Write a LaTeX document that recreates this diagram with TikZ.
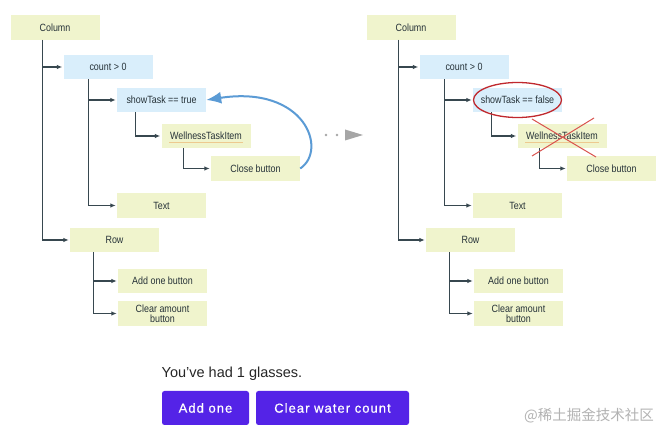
\documentclass[tikz,border=0pt]{standalone}
\usepackage{fontspec}
\setmainfont{Liberation Sans}
\newfontfamily\cjk{Noto Sans CJK SC}
\newfontfamily\btnfont[LetterSpace=8,FakeBold=0.6]{Liberation Sans}
\newfontfamily\boxfont[FakeStretch=0.85]{Liberation Sans}
\usetikzlibrary{arrows.meta,shapes.geometric}
\definecolor{boxgreen}{HTML}{F0F4CD}
\definecolor{boxblue}{HTML}{D9EEFB}
\definecolor{conncol}{HTML}{37474F}
\definecolor{curveblue}{HTML}{5B9BD5}
\definecolor{btncol}{HTML}{5423E7}
\definecolor{ellred}{HTML}{C0282D}
\definecolor{crossred}{HTML}{D9534F}
\definecolor{squig}{HTML}{EDC98F}
\definecolor{txtcol}{HTML}{263238}
\definecolor{arrgray}{HTML}{A6A6A6}
\tikzset{
  gbox/.style={fill=boxgreen, minimum width=89pt, minimum height=24.5pt, inner sep=1pt,
    font=\boxfont\fontsize{10.5}{11.5}\selectfont, text=txtcol, align=center},
  bbox/.style={gbox, fill=boxblue},
  treelink/.style={draw=conncol, line width=1.2pt, -{Latex[length=5.5pt,width=4.5pt]}, shorten >=1pt},
  btnbox/.style={fill=btncol, rounded corners=2.5pt, minimum height=34pt, text=white,
    font=\btnfont\fontsize{13}{15}\selectfont},
}
\newcommand{\drawtree}[3]{%
\begin{scope}[xshift=#2]
  \node[gbox] (#1col) at (55,27.5) {Column};
  \node[bbox] (#1cnt) at (108,67) {count > 0};
  \node[bbox] (#1show) at (161.5,100) {#3};
  \node[gbox] (#1well) at (206,136) {WellnessTaskItem};
  \node[gbox] (#1close) at (255.5,168.5) {Close button};
  \node[gbox] (#1txt) at (161.5,205.5) {Text};
  \node[gbox] (#1row) at (114.5,240) {Row};
  \node[gbox] (#1add) at (162.5,281) {Add one button};
  \node[gbox] (#1clr) at (162.5,313.5) {Clear amount\\[-1pt]button};
  \draw[squig, line width=0.4pt] ([shift={(-37,6)}]#1well.center) -- ([shift={(37,6)}]#1well.center);
  \draw[treelink] ([xshift=32pt]#1col.south west) |- (#1cnt.west);
  \draw[treelink] ([xshift=32pt]#1col.south west) |- (#1row.west);
  \draw[treelink] ([xshift=25pt]#1cnt.south west) |- (#1show.west);
  \draw[treelink] ([xshift=25pt]#1cnt.south west) |- (#1txt.west);
  \draw[treelink] ([xshift=19pt]#1show.south west) |- (#1well.west);
  \draw[treelink] ([xshift=22pt]#1well.south west) |- (#1close.west);
  \draw[treelink] ([xshift=24pt]#1row.south west) |- (#1add.west);
  \draw[treelink] ([xshift=24pt]#1row.south west) |- (#1clr.west);
\end{scope}}
\begin{document}
\begin{tikzpicture}[x=1pt,y=-1pt]
  \useasboundingbox (0,0) rectangle (665,438);
  \fill[white] (0,0) rectangle (665,438);
  \drawtree{L}{0pt}{showTask == true}
  \drawtree{R}{356pt}{showTask == false}
  % blue curved arrow
  \draw[curveblue, line width=2pt, -{Latex[length=15pt,width=12pt]}]
    (Lclose.east) .. controls (328,150) and (305,85) .. (Lshow.east);
  % red ellipse and cross
  \draw[ellred, line width=1.3pt] (Rshow.center) ellipse [x radius=44pt, y radius=17.5pt];
  \draw[crossred, line width=1pt] ([shift={(-30,-17)}]Rwell.center) -- ([shift={(34,21)}]Rwell.center);
  \draw[crossred, line width=1pt] ([shift={(32,-18)}]Rwell.center) -- ([shift={(-30,20)}]Rwell.center);
  % gray transition arrow
  \fill[arrgray] (326,135) circle (1.3pt);
  \fill[arrgray] (337,135) circle (1.3pt);
  \fill[arrgray] (345,129.5) -- (363,135) -- (345,140.5) -- cycle;
  % bottom app preview
  \node[anchor=base west, inner sep=0pt, text=black!85, font=\fontsize{14.5}{17}\selectfont] (msg) at (161.5,378) {You've had 1 glasses.};
  \node[btnbox, minimum width=87pt] (b1) at (205.5,408) {Add one};
  \node[btnbox, minimum width=153pt] (b2) at (332.5,408) {Clear water count};
  \node[anchor=west, inner sep=0pt, text=black!30, font=\cjk\fontsize{14.5}{17}\selectfont] (wm) at (524,416) {@稀土掘金技术社区};
\end{tikzpicture}
\end{document}
